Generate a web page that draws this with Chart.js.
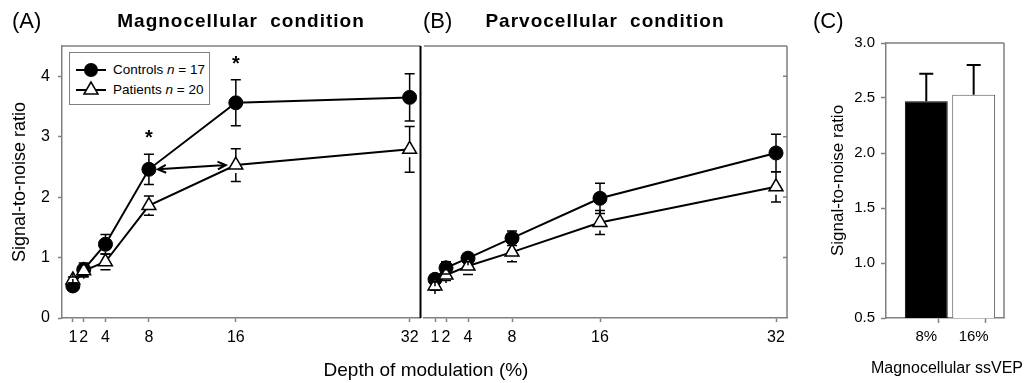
<!DOCTYPE html>
<html>
<head>
<meta charset="utf-8">
<script src="https://cdn.jsdelivr.net/npm/chart.js@4.4.1/dist/chart.umd.min.js"></script>
<style>
  body { margin: 0; background: #fff; }
  #fig { position: relative; width: 1029px; height: 383px; overflow: hidden;
         font-family: "Liberation Sans", Arial, sans-serif; color: #000; }
  #fig canvas { position: absolute; top: 0; }
  .txt { position: absolute; white-space: nowrap; line-height: 1; }
  .c { transform: translateX(-50%); }
  .panel { font-size: 22px; }
  .head { font-size: 19px; font-weight: bold; letter-spacing: 1px; word-spacing: 6px; }
  #legend { position: absolute; left: 69px; top: 52px; width: 141px; height: 53px;
            box-sizing: border-box; border: 1.5px solid #808080; background: #fff; }
  .leg { font-size: 13.5px; }
</style>
</head>
<body>
<div id="fig">
  <canvas id="chartA" width="430" height="383" style="left:0"></canvas>
  <canvas id="chartB" width="390" height="383" style="left:410px"></canvas>
  <canvas id="chartC" width="229" height="383" style="left:800px"></canvas>

  <div class="txt panel" style="left:12px; top:10px">(A)</div>
  <div class="txt panel" style="left:423px; top:10px">(B)</div>
  <div class="txt panel" style="left:813px; top:10px">(C)</div>
  <div class="txt head c" style="left:241px; top:11px">Magnocellular condition</div>
  <div class="txt head c" style="left:605px; top:11px">Parvocellular condition</div>
  <div class="txt c" style="left:426px; top:360px; font-size:19px">Depth of modulation (%)</div>
  <div class="txt c" style="left:947px; top:360px; font-size:16px">Magnocellular ssVEP</div>

  <!-- legend for panel A -->
  <div id="legend"></div>
  <svg style="position:absolute; left:74px; top:57px" width="36" height="44">
    <line x1="2" y1="13" x2="32" y2="13" stroke="#000" stroke-width="2"/>
    <circle cx="17" cy="13" r="7" fill="#000"/>
    <line x1="2" y1="33" x2="32" y2="33" stroke="#000" stroke-width="2"/>
    <polygon points="17,25 10,37 24,37" fill="#fff" stroke="#000" stroke-width="1.5"/>
  </svg>
  <div class="txt leg" style="left:113px; top:63px">Controls <i>n</i> = 17</div>
  <div class="txt leg" style="left:113px; top:83px">Patients <i>n</i> = 20</div>
</div>

<script>
// values
const depths = [1, 2, 4, 8, 16, 32];
const snrTicks = [0, 1, 2, 3, 4];

const magnoControls    = [0.53, 0.80, 1.22, 2.46, 3.56, 3.65];
const magnoControlsErr = [0.05, 0.11, 0.16, 0.25, 0.38, 0.39];
const magnoPatients    = [0.63, 0.78, 0.93, 1.86, 2.53, 2.79];
const magnoPatientsErr = [0.05, 0.10, 0.13, 0.16, 0.27, 0.38];

const parvoControls    = [0.64, 0.83, 0.99, 1.32, 1.98, 2.73];
const parvoControlsErr = [0.04, 0.10, 0.06, 0.12, 0.25, 0.31];
const parvoPatients    = [0.53, 0.71, 0.86, 1.09, 1.58, 2.17];
const parvoPatientsErr = [0.07, 0.09, 0.14, 0.16, 0.20, 0.25];

const sigDepths = [8, 16];      // asterisks in panel A
const arrowDepths = [8, 16];    // double arrow: controls at 8% vs patients at 16%

const ssvepLabels = ['8%', '16%'];
const ssvepValues = [2.47, 2.53];
const ssvepErr    = [0.25, 0.27];
const ssvepTicks  = [0.5, 1.0, 1.5, 2.0, 2.5, 3.0];

const axisGray = '#808080';
const barFills = ['#000', '#fff'];
const barEdges = ['#000', '#555'];

Chart.defaults.font.family = '"Liberation Sans", Arial, sans-serif';
Chart.defaults.color = '#000';

function lineSets(controls, controlsErr, patients, patientsErr) {
    return [
        {
            label: 'Controls',
            data: depths.map((d, i) => ({ x: d, y: controls[i] })),
            errors: controlsErr,
            order: 1,
            borderColor: '#000', borderWidth: 2,
            pointStyle: 'circle', pointRadius: 7,
            pointBackgroundColor: '#000', pointBorderColor: '#000', pointBorderWidth: 1
        },
        {
            label: 'Patients',
            data: depths.map((d, i) => ({ x: d, y: patients[i] })),
            errors: patientsErr,
            order: 0,
            borderColor: '#000', borderWidth: 2,
            pointStyle: 'triangle', pointRadius: 8,
            pointBackgroundColor: '#fff', pointBorderColor: '#000', pointBorderWidth: 1.5
        }
    ];
}

// error bars from dataset.errors, drawn through the chart scales
const errorBars = {
    id: 'errorBars',
    afterDatasetsDraw(chart, args, opts) {
        const { ctx } = chart;
        const xs = chart.scales.x, ys = chart.scales.y;
        const cap = opts.cap || 5;
        ctx.save();
        ctx.strokeStyle = '#000';
        ctx.lineWidth = opts.width || 1.5;
        chart.data.datasets.forEach(ds => {
            if (!ds.errors) return;
            ds.data.forEach((p, i) => {
                const x = xs.getPixelForValue(p.x);
                const hi = ys.getPixelForValue(p.y + ds.errors[i]);
                const lo = ys.getPixelForValue(opts.upOnly ? p.y : p.y - ds.errors[i]);
                const r = opts.upOnly ? 0 : (ds.pointRadius || 0);
                const yc = ys.getPixelForValue(p.y);
                ctx.beginPath();
                ctx.moveTo(x, yc - r); ctx.lineTo(x, hi);
                ctx.moveTo(x - cap, hi); ctx.lineTo(x + cap, hi);
                if (!opts.upOnly) {
                    ctx.moveTo(x, yc + r); ctx.lineTo(x, lo);
                    ctx.moveTo(x - cap, lo); ctx.lineTo(x + cap, lo);
                }
                ctx.stroke();
            });
        });
        ctx.restore();
    }
};

// box lines that Chart.js has no axis for
const frame = {
    id: 'frame',
    beforeDatasetsDraw(chart, args, opts) {
        const { ctx, chartArea: a } = chart;
        ctx.save();
        ctx.lineWidth = 1.5;
        ctx.strokeStyle = axisGray;
        ctx.beginPath();
        ctx.moveTo(a.left, a.top); ctx.lineTo(a.right, a.top);
        if (opts.right) { ctx.moveTo(a.right, a.top); ctx.lineTo(a.right, a.bottom); }
        if (opts.innerTicks) {
            opts.innerTicks.forEach(v => {
                const y = chart.scales.y.getPixelForValue(v);
                ctx.moveTo(a.right - 4, y); ctx.lineTo(a.right, y);
            });
        }
        ctx.stroke();
        if (opts.divider) {
            ctx.strokeStyle = '#000';
            ctx.lineWidth = 2;
            ctx.beginPath();
            ctx.moveTo(a.right, a.top); ctx.lineTo(a.right, a.bottom);
            ctx.stroke();
        }
        ctx.restore();
    }
};

// asterisks and the double arrow of panel A
const marks = {
    id: 'marks',
    afterDatasetsDraw(chart) {
        const { ctx } = chart;
        const xs = chart.scales.x, ys = chart.scales.y;
        ctx.save();
        ctx.fillStyle = '#000';
        ctx.strokeStyle = '#000';
        ctx.font = 'bold 20px "Liberation Sans", Arial, sans-serif';
        ctx.textAlign = 'center';
        sigDepths.forEach(d => {
            const i = depths.indexOf(d);
            const top = ys.getPixelForValue(magnoControls[i] + magnoControlsErr[i]);
            ctx.fillText('*', xs.getPixelForValue(d), top - 10);
        });

        const i1 = depths.indexOf(arrowDepths[0]), i2 = depths.indexOf(arrowDepths[1]);
        const x1 = xs.getPixelForValue(arrowDepths[0]) + 9;
        const y1 = ys.getPixelForValue(magnoControls[i1]);
        const x2 = xs.getPixelForValue(arrowDepths[1]) - 10;
        const y2 = ys.getPixelForValue(magnoPatients[i2]);
        const ang = Math.atan2(y2 - y1, x2 - x1);
        const head = 9, spread = 0.45;
        ctx.lineWidth = 2;
        ctx.beginPath();
        ctx.moveTo(x1, y1); ctx.lineTo(x2, y2);
        ctx.moveTo(x2 - head * Math.cos(ang - spread), y2 - head * Math.sin(ang - spread));
        ctx.lineTo(x2, y2);
        ctx.lineTo(x2 - head * Math.cos(ang + spread), y2 - head * Math.sin(ang + spread));
        ctx.moveTo(x1 + head * Math.cos(ang - spread), y1 + head * Math.sin(ang - spread));
        ctx.lineTo(x1, y1);
        ctx.lineTo(x1 + head * Math.cos(ang + spread), y1 + head * Math.sin(ang + spread));
        ctx.stroke();
        ctx.restore();
    }
};

function depthAxis() {
    return {
        type: 'linear', min: 0, max: 33,
        afterBuildTicks: s => { s.ticks = depths.map(v => ({ value: v })); },
        afterFit: s => { s.height = 30; },
        ticks: { autoSkip: false, maxRotation: 0, padding: 6, font: { size: 16 } },
        grid: { drawOnChartArea: false, tickLength: 4, tickColor: axisGray, tickWidth: 1.5 },
        border: { color: axisGray, width: 1.5 }
    };
}

const common = {
    responsive: false,
    animation: false,
    events: []
};

// (A) magnocellular
new Chart(document.getElementById('chartA'), {
    type: 'line',
    data: { datasets: lineSets(magnoControls, magnoControlsErr, magnoPatients, magnoPatientsErr) },
    options: {
        ...common,
        clip: false,
        layout: { padding: { left: 0, top: 46, right: 6, bottom: 35 } },
        plugins: {
            legend: { display: false }, tooltip: { enabled: false },
            errorBars: { cap: 5, width: 1.5 },
            frame: { divider: true }
        },
        scales: {
            x: depthAxis(),
            y: {
                min: 0, max: 4.5,
                afterBuildTicks: s => { s.ticks = snrTicks.map(v => ({ value: v })); },
                afterFit: s => { s.width = 62; },
                ticks: { padding: 8, font: { size: 16 } },
                grid: { drawOnChartArea: false, tickLength: 4, tickColor: axisGray, tickWidth: 1.5 },
                border: { color: axisGray, width: 1.5 },
                title: { display: true, text: 'Signal-to-noise ratio', font: { size: 18 }, padding: { top: 9, bottom: 0 } }
            }
        }
    },
    plugins: [frame, errorBars, marks]
});

// (B) parvocellular
new Chart(document.getElementById('chartB'), {
    type: 'line',
    data: { datasets: lineSets(parvoControls, parvoControlsErr, parvoPatients, parvoPatientsErr) },
    options: {
        ...common,
        clip: false,
        layout: { padding: { left: 14, top: 46, right: 13, bottom: 35 } },
        plugins: {
            legend: { display: false }, tooltip: { enabled: false },
            errorBars: { cap: 5, width: 1.5 },
            frame: { right: true, innerTicks: snrTicks.slice(1) }
        },
        scales: {
            x: depthAxis(),
            y: { display: false, min: 0, max: 4.5 }
        }
    },
    plugins: [frame, errorBars]
});

// (C) magnocellular ssVEP, controls at 8% and 16%
new Chart(document.getElementById('chartC'), {
    type: 'bar',
    data: {
        datasets: [{
            data: ssvepValues.map((v, i) => ({ x: i, y: v })),
            errors: ssvepErr,
            backgroundColor: barFills,
            borderColor: barEdges,
            borderWidth: 1,
            barPercentage: 1.81,      // ruler spacing is the half-step tick grid
            categoryPercentage: 1
        }]
    },
    options: {
        ...common,
        layout: { padding: { left: 0, top: 43, right: 25, bottom: 35 } },
        plugins: {
            legend: { display: false }, tooltip: { enabled: false },
            errorBars: { cap: 7, width: 2, upOnly: true },
            frame: { right: true }
        },
        scales: {
            x: {
                type: 'linear', offset: false, min: -0.85, max: 1.64,
                afterBuildTicks: s => { s.ticks = [0, 0.5, 1].map(v => ({ value: v })); },
                afterFit: s => { s.height = 30; },
                ticks: { autoSkip: false, maxRotation: 0, padding: 5, font: { size: 15 },
                         callback: v => ssvepLabels[v] ?? '' },
                grid: { drawOnChartArea: false, tickLength: 5, tickWidth: 1.5,
                        tickColor: c => (c.tick && Number.isInteger(c.tick.value)) ? 'rgba(0,0,0,0)' : axisGray },
                border: { color: axisGray, width: 1.5 }
            },
            y: {
                min: 0.5, max: 3.0,
                afterBuildTicks: s => { s.ticks = ssvepTicks.map(v => ({ value: v })); },
                afterFit: s => { s.width = 86; },
                ticks: { padding: 6, font: { size: 15 }, callback: v => v.toFixed(1) },
                grid: { drawOnChartArea: false, tickLength: 5, tickColor: axisGray, tickWidth: 1.5 },
                border: { color: axisGray, width: 1.5 },
                title: { display: true, text: 'Signal-to-noise ratio', font: { size: 17 }, padding: { top: 28, bottom: 0 } }
            }
        }
    },
    plugins: [frame, errorBars]
});
</script>
</body>
</html>
